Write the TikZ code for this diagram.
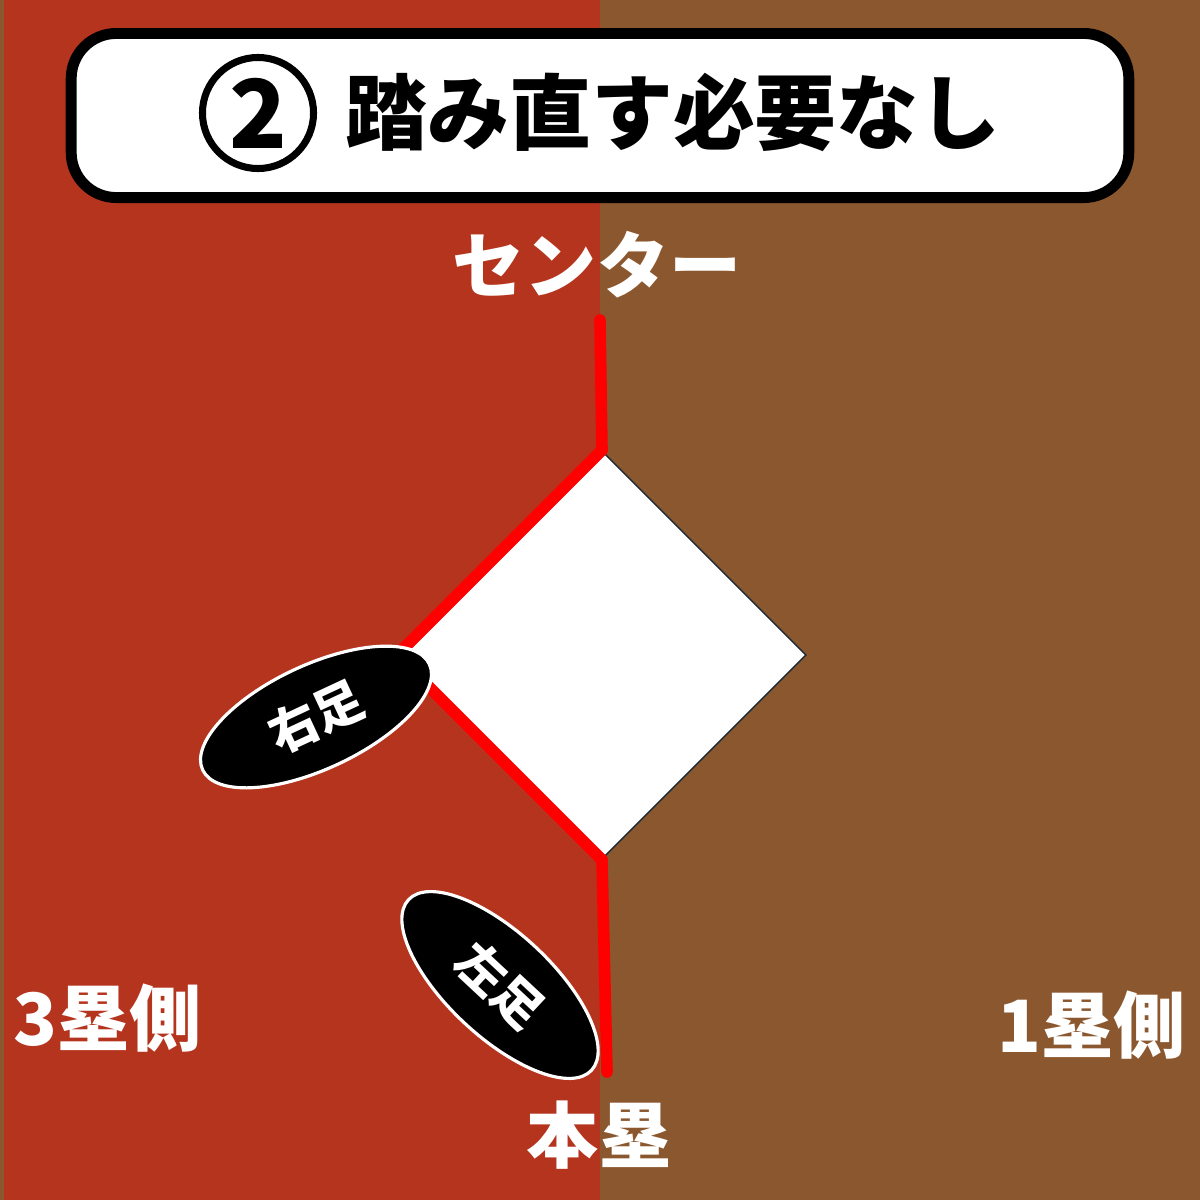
\documentclass[tikz,border=0pt]{standalone}
\usepackage{fontspec}
\newfontfamily\jpfont{Noto Sans CJK JP}
\usetikzlibrary{shapes.geometric}
\definecolor{thirdside}{HTML}{B5341E}
\definecolor{firstside}{HTML}{8B572E}
\definecolor{plateline}{HTML}{1E2A33}

\begin{document}
\begin{tikzpicture}[x=0.01cm,y=-0.01cm,
  sidetext/.style={text=white,font=\jpfont\bfseries\fontsize{20.5}{20.5}\selectfont},
  foot/.style={ellipse,draw=white,line width=0.9pt,fill=black,minimum width=2.5cm,minimum height=1.04cm,inner sep=0pt,text=white,font=\jpfont\bfseries\fontsize{14}{14}\selectfont},
  redline/.style={red,line width=3.3pt,line cap=round,line join=round}]

\fill[firstside] (0,0) rectangle (1200,1200);
\fill[thirdside] (4,0) rectangle (600,1200);

\node[draw=black,fill=white,line width=3.1pt,rounded corners=0.45cm,minimum width=10.57cm,minimum height=1.64cm] (banner) at (600,115.5) {};
\node[circle,draw=black,line width=2pt,minimum size=1.11cm,inner sep=0pt,font=\jpfont\bfseries\fontsize{27}{27}\selectfont] (num) at (258,113) {2};
\node[font=\jpfont\bfseries\fontsize{23.3}{23.3}\selectfont] (title) at (673,112) {踏み直す必要なし};

\node[sidetext] (center) at (597,265) {センター};

\node[diamond,draw=plateline,line width=0.4pt,fill=white,minimum width=4.08cm,minimum height=4.08cm,inner sep=0pt] (plate) at (602,655) {};
\coordinate (cf) at (600,320);
\coordinate (hp) at (607,1072);
\draw[redline] (cf) -- (plate.north);
\draw[redline] (plate.north) -- (plate.west) -- (plate.south);
\draw[redline] (plate.south) -- (hp);

\node[foot,rotate=25] (rfoot) at (316,717) {右足};
\node[foot,rotate=-43] (lfoot) at (500,985) {左足};

\node[sidetext] (third) at (108,1018) {3塁側};
\node[sidetext] (first) at (1092,1025) {1塁側};
\node[sidetext] (home) at (599,1135) {本塁};

\end{tikzpicture}
\end{document}
